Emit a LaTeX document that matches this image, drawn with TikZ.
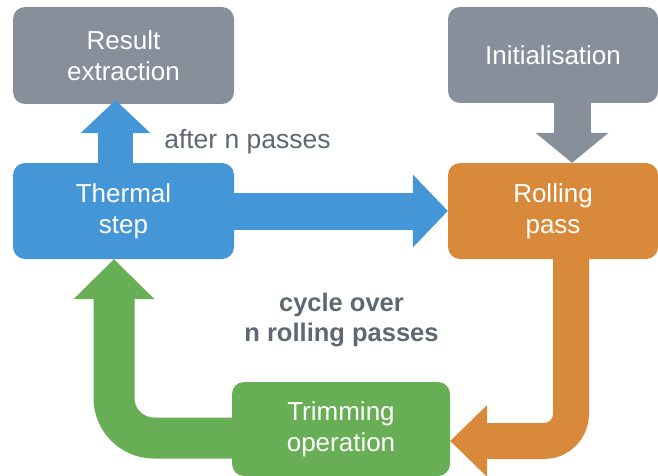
\documentclass[tikz,border=0pt]{standalone}
\usepackage{fontspec}
\setmainfont{Liberation Sans}
\usetikzlibrary{arrows.meta}
\definecolor{boxgray}{RGB}{135,143,155}
\definecolor{stepblue}{RGB}{69,150,214}
\definecolor{rollorange}{RGB}{216,138,58}
\definecolor{trimgreen}{RGB}{103,174,85}
\definecolor{labgray}{RGB}{95,103,115}

\begin{document}
\begin{tikzpicture}[x=1pt,y=-1pt]
\tikzset{box/.style={rounded corners=12pt,inner sep=0pt,align=center,text=white,font=\fontsize{26}{31}\selectfont},
  lab/.style={text=labgray,align=center,font=\fontsize{26.5}{30}\selectfont},
  fat/.style={line width=#1}}
\useasboundingbox (0,0) rectangle (658,476);
% boxes
\node[box,fill=boxgray,minimum width=221pt,minimum height=97pt] (result) at (123.5,55.5) {Result\\extraction};
\node[box,fill=boxgray,minimum width=210pt,minimum height=96pt] (init) at (553,55) {Initialisation};
\node[box,fill=stepblue,minimum width=221pt,minimum height=96pt] (thermal) at (123.5,211) {Thermal\\step};
\node[box,fill=rollorange,minimum width=210pt,minimum height=96pt] (rolling) at (553,211) {Rolling\\pass};
\node[box,fill=trimgreen,minimum width=218pt,minimum height=94pt] (trimming) at (341,429) {Trimming\\operation};
% labels
\node[lab] (after) at (247.5,142) {after n passes};
\node[lab,font=\fontsize{25.5}{30}\bfseries] (cycle) at (341.5,320) {cycle over\\n rolling passes};
% block arrows
\draw[stepblue,fat=35pt,-{Triangle[length=33pt,width=70pt,line width=0pt]}] ([xshift=-8pt]thermal.north) -- ([xshift=-8pt,yshift=4pt]result.south);
\draw[boxgray,fat=37pt,-{Triangle[length=30pt,width=73pt,line width=0pt]}] ([xshift=19pt]init.south) -- ([xshift=19pt]rolling.north);
\draw[stepblue,fat=37pt,-{Triangle[length=35pt,width=73pt,line width=0pt]}] (thermal.east) -- (rolling.west);
\draw[rollorange,fat=36pt,rounded corners=27pt,-{Triangle[length=37pt,width=72pt,line width=0pt]}] ([xshift=18pt]rolling.south) |- ([yshift=-12pt]trimming.east);
\draw[trimgreen,fat=41pt,rounded corners=40pt,-{Triangle[length=40pt,width=81pt,line width=0pt]}] ([yshift=-9pt]trimming.west) -| ([xshift=-9.5pt]thermal.south);
\end{tikzpicture}
\end{document}
